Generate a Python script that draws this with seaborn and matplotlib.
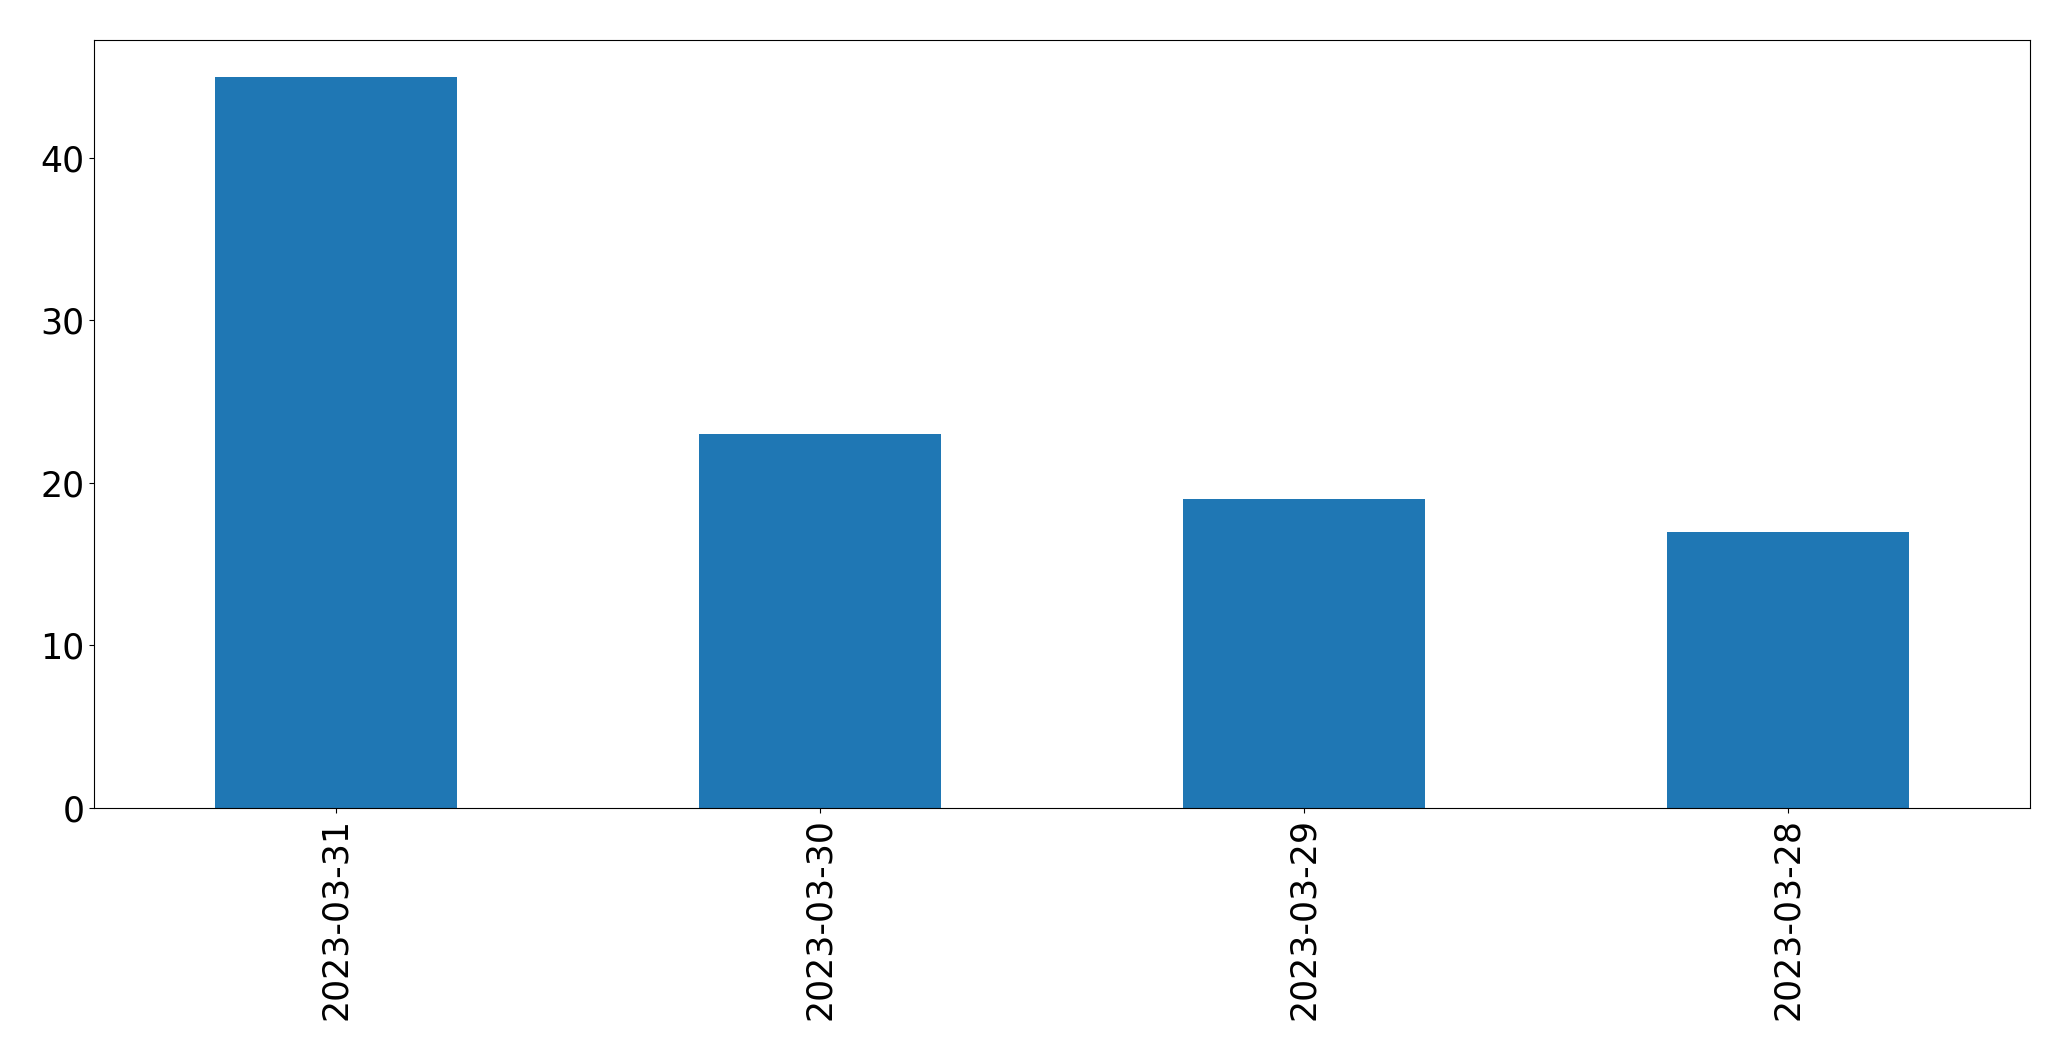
import matplotlib
matplotlib.use("Agg")
import matplotlib.pyplot as plt
import seaborn as sns
import pandas as pd

dates = ['2023-03-31', '2023-03-30', '2023-03-29', '2023-03-28']
counts = [45, 23, 19, 17]

df = pd.DataFrame({'date': dates, 'count': counts})

fig, ax = plt.subplots(figsize=(20.71, 10.61), dpi=100)
sns.barplot(data=df, x='date', y='count', color='#1f77b4', width=0.5,
            saturation=1, ax=ax)
ax.set_xlim(-0.5, 3.5)
ax.set_ylim(0, max(counts) * 1.05)
ax.set_xlabel('')
ax.set_ylabel('')
ax.tick_params(axis='both', labelsize=25)
for s in ax.spines.values():
    s.set_color('black')
plt.setp(ax.get_xticklabels(), rotation=90)
plt.subplots_adjust(left=0.0454, right=0.9802, top=0.9623, bottom=0.2385)
fig.savefig('out.png', dpi=100)
